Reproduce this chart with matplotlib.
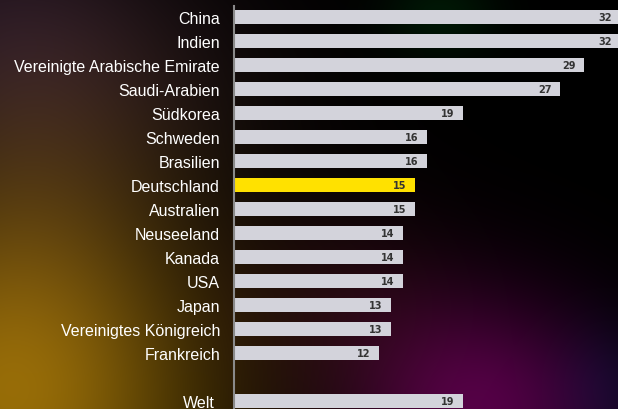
import numpy as np
import matplotlib
matplotlib.use("Agg")
import matplotlib.pyplot as plt
import matplotlib.transforms as mtransforms

countries = ["China", "Indien", "Vereinigte Arabische Emirate", "Saudi-Arabien",
             "Südkorea", "Schweden", "Brasilien", "Deutschland", "Australien",
             "Neuseeland", "Kanada", "USA", "Japan", "Vereinigtes Königreich",
             "Frankreich", "", "Welt"]
values = [32, 32, 29, 27, 19, 16, 16, 15, 15, 14, 14, 14, 13, 13, 12, None, 19]
highlight = "Deutschland"

W, H, DPI = 618, 410, 100
fig = plt.figure(figsize=(W / DPI, H / DPI), dpi=DPI)

# background glow
yy, xx = np.mgrid[0:H, 0:W].astype(float)
img = np.zeros((H, W, 3))
def blob(cx, cy, sx, sy, col):
    g = np.exp(-(((xx - cx) / sx) ** 2 + ((yy - cy) / sy) ** 2) / 2)
    img[:] += g[..., None] * np.array(col)[None, None, :]
blob(0, 420, 150, 130, (0.45, 0.33, 0.0))
blob(30, 260, 110, 160, (0.22, 0.15, 0.04))
blob(0, 30, 120, 90, (0.09, 0.05, 0.12))
blob(150, 100, 120, 90, (0.05, 0.03, 0.03))
blob(480, 410, 90, 80, (0.32, 0.0, 0.27))
blob(350, 300, 80, 70, (0.09, 0.02, 0.04))
blob(440, 15, 40, 30, (0.0, 0.09, 0.02))
blob(610, 390, 40, 50, (0.0, 0.03, 0.09))
img = np.clip(img, 0, 1)
bg = fig.add_axes([0, 0, 1, 1])
bg.imshow(img, aspect="auto", extent=(0, 1, 0, 1), interpolation="bilinear")
bg.axis("off")

ax = fig.add_axes([234 / W, 0, 1 - 234 / W, (H - 7) / H])
ax.patch.set_alpha(0)
pos = np.arange(len(countries))
for i, (c, v) in enumerate(zip(countries, values)):
    if v is None:
        continue
    col = "#ffe100" if c == highlight else "#d3d3db"
    ax.barh(i, v, height=0.59, color=col, left=0)
    ax.annotate(str(v), xy=(v, i), xytext=(-6, 0), textcoords="offset points",
                ha="right", va="center", fontsize=7, fontweight="bold",
                color="#333333", family="DejaVu Sans", annotation_clip=False)
ax.set_xlim(0, 31.83)
ax.set_ylim(16.333, -0.458)
ax.set_yticks(pos)
ax.set_yticklabels(countries, color="white", fontsize=11.5, family="Liberation Sans")
ax.tick_params(axis="y", length=0, pad=10)
welt = ax.get_yticklabels()[-1]
welt.set_transform(welt.get_transform() +
                   mtransforms.ScaledTranslation(-0.05, 0, fig.dpi_scale_trans))
ax.set_xticks([])
for s in ["top", "right", "bottom"]:
    ax.spines[s].set_visible(False)
ax.spines["left"].set_color("#8a8a8a")
ax.spines["left"].set_linewidth(1.5)

fig.savefig("out.png", dpi=DPI)
